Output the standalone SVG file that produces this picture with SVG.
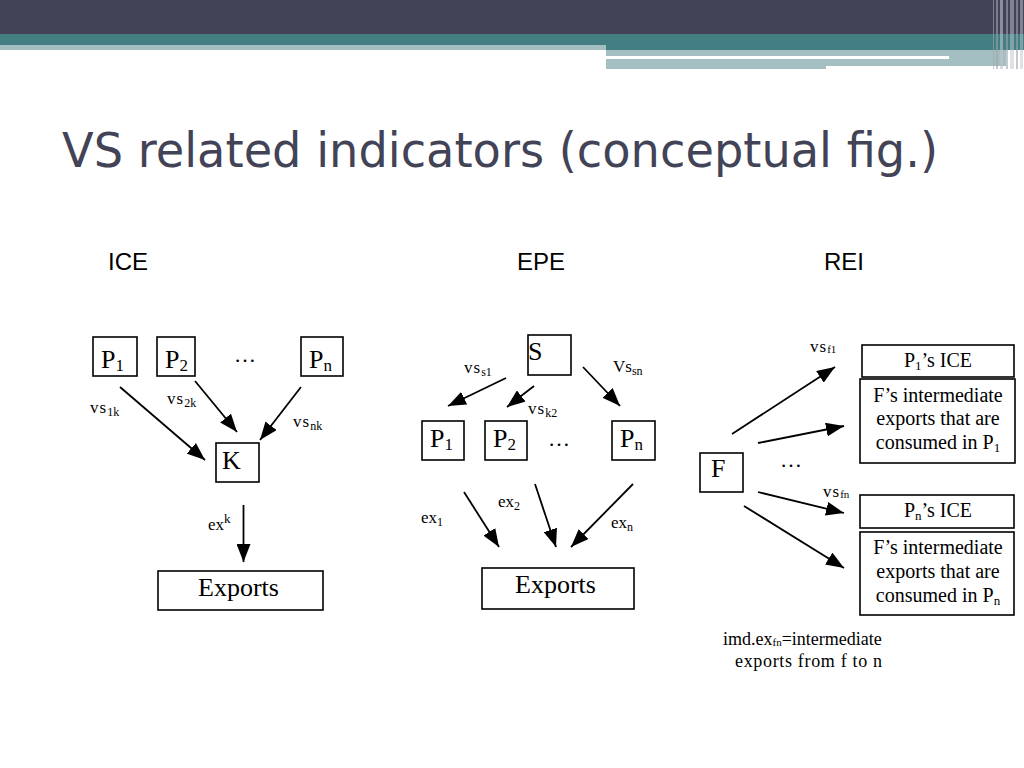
<svg xmlns="http://www.w3.org/2000/svg" width="1024" height="768" viewBox="0 0 1024 768">
<defs>
<marker id="ah" markerUnits="userSpaceOnUse" markerWidth="18" markerHeight="14" refX="18" refY="7" orient="auto">
<path d="M0,0 L18,7 L0,14 z" fill="#000"/>
</marker>
<style>
.box{fill:#fff;stroke:#000;stroke-width:1.6}
.arr{stroke:#000;stroke-width:1.8;fill:none;marker-end:url(#ah)}
.t{font-family:"Liberation Serif","Times New Roman",serif;fill:#000}
.big{font-size:26px}
.mid{font-size:20px}
.lbl{font-size:17px}
.sec{font-family:"Liberation Sans",Arial,sans-serif;font-size:24px;fill:#000}
</style>
</defs>
<rect width="1024" height="768" fill="#fff"/>
<g id="header">
<rect x="0" y="0" width="1024" height="34" fill="#424356"/>
<rect x="0" y="34" width="1024" height="11" fill="#437e82"/>
<rect x="606" y="45" width="418" height="5" fill="#437e82"/>
<rect x="0" y="45" width="606" height="5" fill="#a3bfc1"/>
<rect x="606" y="50" width="400" height="16" fill="#a3bfc1"/>
<rect x="606" y="66" width="220" height="3" fill="#a3bfc1"/>
<rect x="606" y="56" width="343" height="3" fill="#fff"/>
<rect x="993" y="0" width="1" height="69" fill="#a0a3ae" opacity="0.6"/>
<rect x="996" y="0" width="2" height="69" fill="#a0a3ae" opacity="0.6"/>
<rect x="1000" y="0" width="3" height="69" fill="#c0c3cc" opacity="0.6"/>
<rect x="1006" y="0" width="2" height="69" fill="#a0a3ae" opacity="0.6"/>
<rect x="1010" y="0" width="4" height="69" fill="#c0c3cc" opacity="0.5"/>
<rect x="1016" y="0" width="2" height="69" fill="#a0a3ae" opacity="0.6"/>
<rect x="1020" y="0" width="3" height="69" fill="#c0c3cc" opacity="0.5"/>
</g>
<text id="title" x="62" y="167" font-family="'DejaVu Sans',Verdana,sans-serif" font-size="48" fill="#424356" textLength="876" lengthAdjust="spacingAndGlyphs">VS related indicators (conceptual fig.)</text>
<text class="sec" x="108" y="270">ICE</text>
<text class="sec" x="517" y="270">EPE</text>
<text class="sec" x="824" y="270">REI</text>

<g id="connectors">
<line class="arr" x1="120" y1="387" x2="205" y2="460"/>
<line class="arr" x1="195" y1="381" x2="237" y2="432"/>
<line class="arr" x1="301" y1="387" x2="260" y2="440"/>
<line class="arr" x1="243.5" y1="505" x2="243.5" y2="562"/>
<line class="arr" x1="506" y1="378" x2="448" y2="406"/>
<line class="arr" x1="534" y1="386" x2="507" y2="407"/>
<line class="arr" x1="583" y1="367" x2="620" y2="406"/>
<line class="arr" x1="464" y1="492" x2="499" y2="547"/>
<line class="arr" x1="535" y1="484" x2="556" y2="547"/>
<line class="arr" x1="633" y1="484" x2="571" y2="547"/>
<line class="arr" x1="732" y1="434" x2="835" y2="367"/>
<line class="arr" x1="758" y1="443" x2="844" y2="426"/>
<line class="arr" x1="758" y1="492" x2="844" y2="513"/>
<line class="arr" x1="744" y1="506" x2="844" y2="568"/>
</g>

<g id="ice-labels">
<text class="t lbl" x="90" y="413" letter-spacing="1">vs<tspan font-size="12" dy="3" letter-spacing="0">1k</tspan></text>
<text class="t lbl" x="167" y="404" letter-spacing="1">vs<tspan font-size="12" dy="3" letter-spacing="0">2k</tspan></text>
<text class="t lbl" x="293" y="427" letter-spacing="1">vs<tspan font-size="12" dy="3" letter-spacing="0">nk</tspan></text>
<text class="t lbl" x="208" y="530">ex<tspan font-size="13" dy="-7">k</tspan></text>
<text class="t" x="234" y="362" font-size="22">…</text>
</g>
<g id="ice-P1"><rect class="box" x="93" y="337" width="44" height="39"/><text class="t big" x="101" y="368">P<tspan font-size="17" dy="3">1</tspan></text></g>
<g id="ice-P2"><rect class="box" x="157" y="337" width="38" height="39"/><text class="t big" x="165" y="368">P<tspan font-size="17" dy="3">2</tspan></text></g>
<g id="ice-Pn"><rect class="box" x="301" y="337" width="42" height="39"/><text class="t big" x="309" y="368">P<tspan font-size="17" dy="3">n</tspan></text></g>
<g id="ice-K"><rect class="box" x="216" y="443" width="43" height="39"/><text class="t big" x="222" y="469">K</text></g>
<g id="ice-Exports"><rect class="box" x="158" y="571" width="165" height="39"/><text class="t big" x="198" y="596">Exports</text></g>

<g id="epe-labels">
<text class="t lbl" x="464" y="373" letter-spacing="1">vs<tspan font-size="12" dy="3" letter-spacing="0">s1</tspan></text>
<text class="t lbl" x="528" y="414" letter-spacing="1">vs<tspan font-size="12" dy="3" letter-spacing="0">k2</tspan></text>
<text class="t lbl" x="613" y="372">Vs<tspan font-size="12" dy="3">sn</tspan></text>
<text class="t lbl" x="421" y="523">ex<tspan font-size="12" dy="3">1</tspan></text>
<text class="t lbl" x="498" y="507">ex<tspan font-size="12" dy="3">2</tspan></text>
<text class="t lbl" x="611" y="528">ex<tspan font-size="12" dy="3">n</tspan></text>
<text class="t" x="548" y="446" font-size="22">…</text>
</g>
<g id="epe-S"><rect class="box" x="528" y="335" width="43" height="40"/><text class="t big" x="528" y="360">S</text></g>
<g id="epe-P1"><rect class="box" x="422" y="421" width="42" height="39"/><text class="t big" x="430" y="447">P<tspan font-size="17" dy="3">1</tspan></text></g>
<g id="epe-P2"><rect class="box" x="485" y="421" width="42" height="39"/><text class="t big" x="493" y="447">P<tspan font-size="17" dy="3">2</tspan></text></g>
<g id="epe-Pn"><rect class="box" x="612" y="421" width="43" height="39"/><text class="t big" x="620" y="447">P<tspan font-size="17" dy="3">n</tspan></text></g>
<g id="epe-Exports"><rect class="box" x="482" y="568" width="152" height="41"/><text class="t big" x="515" y="593">Exports</text></g>

<g id="rei-labels">
<text class="t lbl" x="810" y="352" letter-spacing="1">vs<tspan font-size="11" dy="1" letter-spacing="0">f1</tspan></text>
<text class="t lbl" x="823" y="497" letter-spacing="1">vs<tspan font-size="11" dy="1" letter-spacing="0">fn</tspan></text>
<text class="t" x="780" y="467" font-size="22">…</text>
<text class="t" font-size="18" x="723" y="645">imd.ex<tspan font-size="11" dy="1">fn</tspan><tspan dy="-1">=intermediate</tspan></text>
<text class="t" font-size="18" x="735" y="667" textLength="147" lengthAdjust="spacing">exports from f to n</text>
</g>
<g id="rei-F"><rect class="box" x="700" y="453" width="43" height="39"/><text class="t big" x="711" y="477">F</text></g>
<g id="rei-P1ICE"><rect class="box" x="862" y="345" width="152" height="32"/><text class="t mid" x="938" y="367" text-anchor="middle">P<tspan font-size="13" dy="3">1</tspan><tspan dy="-3">’s ICE</tspan></text></g>
<g id="rei-F1"><rect class="box" x="860" y="379" width="155" height="84"/>
<text class="t mid" x="938" y="402" text-anchor="middle">F’s intermediate</text>
<text class="t mid" x="938" y="425" text-anchor="middle">exports that are</text>
<text class="t mid" x="938" y="449" text-anchor="middle">consumed in P<tspan font-size="13" dy="3">1</tspan></text></g>
<g id="rei-PnICE"><rect class="box" x="860" y="495" width="154" height="33"/><text class="t mid" x="938" y="517" text-anchor="middle">P<tspan font-size="13" dy="3">n</tspan><tspan dy="-3">’s ICE</tspan></text></g>
<g id="rei-Fn"><rect class="box" x="860" y="532" width="154" height="83"/>
<text class="t mid" x="938" y="554" text-anchor="middle">F’s intermediate</text>
<text class="t mid" x="938" y="578" text-anchor="middle">exports that are</text>
<text class="t mid" x="938" y="602" text-anchor="middle">consumed in P<tspan font-size="13" dy="3">n</tspan></text></g>
</svg>
